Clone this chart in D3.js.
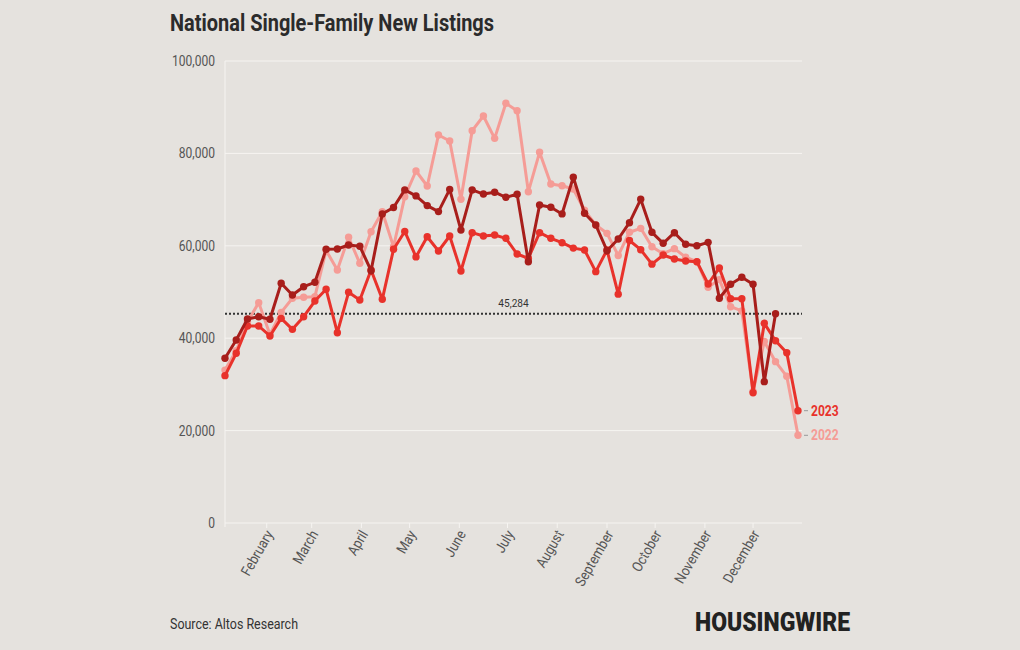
<!DOCTYPE html>
<html><head><meta charset="utf-8">
<script src="https://cdn.jsdelivr.net/npm/d3@7"></script>
<style>body{margin:0;background:#e5e2de;} svg{display:block;font-family:Roboto,"Noto Sans",sans-serif}</style>
</head><body><svg id="c" width="1020" height="650"></svg>
<script>
const weeks = ["2023-01-06","2023-01-13","2023-01-20","2023-01-27","2023-02-03","2023-02-10","2023-02-17","2023-02-24",
"2023-03-03","2023-03-10","2023-03-17","2023-03-24","2023-03-31","2023-04-07","2023-04-14","2023-04-21","2023-04-28",
"2023-05-05","2023-05-12","2023-05-19","2023-05-26","2023-06-02","2023-06-09","2023-06-16","2023-06-23","2023-06-30",
"2023-07-07","2023-07-14","2023-07-21","2023-07-28","2023-08-04","2023-08-11","2023-08-18","2023-08-25",
"2023-09-01","2023-09-08","2023-09-15","2023-09-22","2023-09-29","2023-10-06","2023-10-13","2023-10-20","2023-10-27",
"2023-11-03","2023-11-10","2023-11-17","2023-11-24","2023-12-01","2023-12-08","2023-12-15","2023-12-22","2023-12-29"];
const monthLabels = ["February","March","April","May","June","July","August","September","October","November","December"];
const monthStarts = ["2023-02-01","2023-03-01","2023-04-01","2023-05-01","2023-06-01","2023-07-01","2023-08-01","2023-09-01","2023-10-01","2023-11-01","2023-12-01"];
const yTicks = [0,20000,40000,60000,80000,100000];
const values2022 = [33100,37300,43500,47700,40800,45600,48640,48860,48990,59000,54760,61840,56210,63050,67380,59800,70630,76190,72940,83980,82680,70060,84920,88100,83260,90840,89250,71710,80240,73380,73010,72300,67700,64500,62700,57900,62940,63780,59800,58300,59380,57540,56560,51010,52680,46820,45900,28500,39300,34920,31750,18980];
const values2023 = [31890,36730,42640,42640,40480,44300,41920,44650,48050,50580,41190,49930,48270,54760,48420,59240,63100,57600,61950,58870,62120,54550,62840,62120,62340,61620,58220,57290,62840,61620,60670,59500,59090,54400,59090,49530,61150,59160,56030,58010,57140,56710,56560,51730,55200,48560,48560,28200,43220,39460,36860,24310];
const values2024 = [35650,39600,44150,44650,44100,51900,49350,51150,52100,59250,59300,60170,59900,54600,66900,68300,72100,70800,68700,67400,72200,63400,72100,71200,71600,70500,71150,56550,68830,68330,66900,74830,67030,64500,58940,61470,65000,70060,62920,60540,62840,60320,60020,60750,48640,51670,53180,51670,30590,45284];
const refValue = 45284;
const seriesNames = ["2022","2023","2024"];
const seriesColors = ["#f59c96","#e8322b","#a81e1b"];

const parse = d3.timeParse("%Y-%m-%d");
const svg = d3.select("#c");
const x = d3.scaleTime().domain([parse(weeks[0]), parse(weeks[weeks.length-1])]).range([225, 798]);
const y = d3.scaleLinear().domain([0,100000]).range([523, 61]);
const xEnd = 802;

function condense(sel, f){ sel.each(function(){ const w=this.getComputedTextLength(); d3.select(this).attr("textLength", w*f).attr("lengthAdjust","spacingAndGlyphs"); }); }

// gridlines
svg.append("g").selectAll("line").data(yTicks).join("line")
  .attr("x1",225).attr("x2",xEnd).attr("y1",d=>y(d)).attr("y2",d=>y(d))
  .attr("stroke","#f6f4f1").attr("stroke-width",1);
svg.append("line").attr("x1",225).attr("x2",225).attr("y1",y(100000)).attr("y2",y(0)+4).attr("stroke","#f6f4f1");

// y labels
const yl = svg.append("g").selectAll("text").data(yTicks).join("text")
  .attr("x",215).attr("y",d=>y(d)).attr("dy","0.35em").attr("text-anchor","end")
  .attr("font-size",14).attr("fill","#555").text(d3.format(","));
condense(yl, 0.86);

// x ticks
const mdates = monthStarts.map(parse);
svg.append("g").selectAll("line").data(mdates).join("line")
  .attr("x1",d=>x(d)).attr("x2",d=>x(d)).attr("y1",523).attr("y2",528).attr("stroke","#f6f4f1");
const xl = svg.append("g").selectAll("text").data(mdates).join("text")
  .attr("transform",d=>`translate(${x(d)+7},${534}) rotate(-60)`)
  .attr("text-anchor","end").attr("font-size",14.5).attr("fill","#555")
  .text((d,i)=>monthLabels[i]);
condense(xl, 0.88);

// reference line
svg.append("line").attr("x1",225).attr("x2",xEnd).attr("y1",y(refValue)).attr("y2",y(refValue))
  .attr("stroke","#333").attr("stroke-width",2).attr("stroke-dasharray","2,2");
const rl = svg.append("text").attr("x",(225+xEnd)/2).attr("y",y(refValue)-7).attr("text-anchor","middle")
  .attr("font-size",11.5).attr("fill","#333").text(d3.format(",")(refValue));
condense(rl,0.88);

// series
const allVals = [values2022, values2023, values2024];
const line = d3.line().x((d,i)=>x(parse(weeks[i]))).y(d=>y(d));
allVals.forEach((vals,k)=>{
  const g = svg.append("g");
  g.append("path").datum(vals).attr("d",line).attr("fill","none")
    .attr("stroke",seriesColors[k]).attr("stroke-width",3).attr("stroke-linejoin","round");
  g.selectAll("circle").data(vals).join("circle")
    .attr("cx",(d,i)=>x(parse(weeks[i]))).attr("cy",d=>y(d)).attr("r",3.7).attr("fill",seriesColors[k]);
});

// end labels
[[1,values2023],[0,values2022]].forEach(([k,vals])=>{
  const yy = y(vals[vals.length-1]);
  svg.append("line").attr("x1",804).attr("x2",808).attr("y1",yy).attr("y2",yy).attr("stroke","#999").attr("stroke-width",1);
  const t = svg.append("text").attr("x",811).attr("y",yy).attr("dy","0.36em").attr("font-size",14)
    .attr("font-weight","bold").attr("fill",seriesColors[k]).text(seriesNames[k]);
  condense(t,0.86);
});

// title
const title = svg.append("text").attr("x",170).attr("y",31).attr("font-size",23).attr("font-weight","bold")
  .attr("fill","#2b2b2b").text("National Single-Family New Listings");
title.attr("textLength",324).attr("lengthAdjust","spacingAndGlyphs");

// source
svg.append("text").attr("x",170).attr("y",629).attr("font-size",14).attr("fill","#333")
  .text("Source: Altos Research").attr("textLength",128).attr("lengthAdjust","spacingAndGlyphs");
svg.append("text").attr("x",695).attr("y",631).attr("font-size",25).attr("font-weight",900).attr("fill","#222")
  .text("HOUSINGWIRE").attr("textLength",155).attr("lengthAdjust","spacingAndGlyphs");
</script></body></html>
